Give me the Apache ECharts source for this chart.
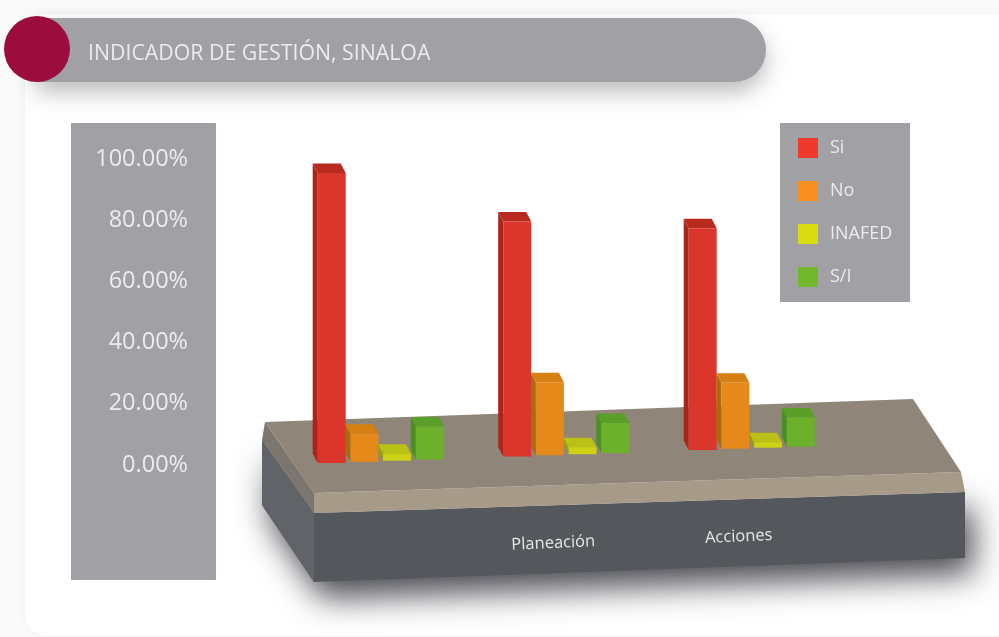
<!DOCTYPE html>
<html>
<head>
<meta charset="utf-8">
<title>Indicador de gestión, Sinaloa</title>
<script src="https://cdn.jsdelivr.net/npm/echarts@6/dist/echarts.min.js"></script>
<style>
  html, body { margin: 0; padding: 0; background: #fafafa; }
  #chart { width: 999px; height: 637px; }
</style>
</head>
<body>
<div id="chart"></div>
<script>
const titleText = 'INDICADOR DE GESTIÓN, SINALOA';
const categories = ['', 'Planeación', 'Acciones'];
const seriesNames = ['Si', 'No', 'INAFED', 'S/I'];

// values in percent
const si = [94.8, 76.8, 72.5];
const no = [9.2, 23.9, 21.6];
const inafed = [2.3, 2.3, 1.8];
const sinInfo = [10.8, 9.8, 9.5];

const legendColors = ['#ee3a2c', '#f7901e', '#d9dd10', '#72b72c'];
const frontColors = ['#dc352b', '#e5891a', '#cdd214', '#6cb02c'];
const topColors = ['#b92a1e', '#d67f12', '#b9c016', '#5aa028'];
const sideColors = ['#a8251a', '#a96a10', '#9aa010', '#4a8f22'];

const panelGrey = '#a0a0a5';
const slope = 0.035; // the floor climbs to the right
const slotWidth = 32.7;
const faceWidth = 28;
const depthX = -5;
const depthY = -9.5;

// 2px lift: the tick labels sit a little lower than the bars' zero line
function floorShift(x) {
  return (x - 331) * slope + 2;
}

function barRenderer(seriesIdx) {
  return function (params, api) {
    const p = api.coord([api.value(0), api.value(1)]);
    const base = api.coord([api.value(0), 0]);
    const cx = p[0] + (seriesIdx - 1.5) * slotWidth;
    const x0 = cx - faceWidth / 2;
    const x1 = cx + faceWidth / 2;
    const shift = floorShift(cx);
    const top = p[1] - shift;
    const bottom = base[1] - shift;
    return {
      type: 'group',
      children: [
        {
          type: 'polygon',
          shape: { points: [[x0, top], [x0 + depthX, top + depthY], [x0 + depthX, bottom + depthY], [x0, bottom]] },
          style: { fill: sideColors[seriesIdx] }
        },
        {
          type: 'polygon',
          shape: { points: [[x0, top], [x1, top], [x1 + depthX, top + depthY], [x0 + depthX, top + depthY]] },
          style: { fill: topColors[seriesIdx] }
        },
        {
          type: 'rect',
          shape: { x: x0, y: top, width: faceWidth, height: bottom - top },
          style: { fill: frontColors[seriesIdx] }
        }
      ]
    };
  };
}

function labelRenderer(params, api) {
  const p = api.coord([api.value(0), 0]);
  const x = p[0] - 13;
  return {
    type: 'text',
    x: x,
    y: p[1] + 88 - floorShift(x),
    rotation: 2.5 * Math.PI / 180,
    style: {
      text: categories[api.value(0)],
      fill: '#e6e6e6',
      fontFamily: 'Open Sans',
      fontSize: 16.5,
      align: 'center',
      verticalAlign: 'middle'
    }
  };
}

function barSeries(name, values, idx) {
  return {
    name: name,
    type: 'custom',
    renderItem: barRenderer(idx),
    data: values.map((v, i) => [i, v]),
    encode: { x: 0, y: 1 },
    itemStyle: { color: legendColors[idx] },
    clip: false,
    z: 5
  };
}

const chart = echarts.init(document.getElementById('chart'));

chart.setOption({
  animation: false,
  backgroundColor: '#fafafa',
  title: {
    text: titleText,
    left: 83,
    top: 38,
    textStyle: { color: '#ececec', fontFamily: 'Open Sans', fontSize: 21.3, fontWeight: 'normal' }
  },
  legend: {
    data: seriesNames,
    orient: 'vertical',
    left: 793,
    top: 133,
    itemWidth: 20,
    itemHeight: 20,
    itemGap: 23,
    icon: 'rect',
    textStyle: { color: '#ececec', fontFamily: 'Open Sans', fontSize: 18, padding: [0, 0, 0, 7] }
  },
  grid: { left: 288, top: 159, width: 556.5, height: 306 },
  xAxis: {
    type: 'category',
    data: categories,
    axisLine: { show: false },
    axisTick: { show: false },
    axisLabel: { show: false }
  },
  yAxis: {
    type: 'value',
    z: 10,
    min: 0,
    max: 100,
    interval: 20,
    axisLine: { show: false },
    axisTick: { show: false },
    splitLine: { show: false },
    axisLabel: {
      margin: 100,
      formatter: '{value}.00%',
      color: '#ececec',
      fontFamily: 'Open Sans',
      fontSize: 23.5
    }
  },
  series: [
    barSeries(seriesNames[0], si, 0),
    barSeries(seriesNames[1], no, 1),
    barSeries(seriesNames[2], inafed, 2),
    barSeries(seriesNames[3], sinInfo, 3),
    {
      name: 'categorias',
      type: 'custom',
      renderItem: labelRenderer,
      data: categories.map((c, i) => [i, 0]),
      encode: { x: 0, y: 1 },
      clip: false,
      silent: true,
      z: 6
    }
  ],
  graphic: {
    elements: [
      // white card
      { type: 'rect', z: 0, shape: { x: 25, y: 14, width: 990, height: 622, r: 22 }, style: { fill: '#ffffff', shadowBlur: 10, shadowColor: 'rgba(0,0,0,0.04)' } },
      // title pill and dot
      { type: 'rect', z: 1, shape: { x: 36, y: 18, width: 730, height: 64, r: [0, 32, 32, 0] }, style: { fill: panelGrey, shadowBlur: 22, shadowOffsetY: 10, shadowColor: 'rgba(60,60,60,0.35)' } },
      { type: 'circle', z: 1, shape: { cx: 37, cy: 49, r: 33 }, style: { fill: '#9b0d3c' } },
      // y axis and legend panels
      { type: 'rect', z: 1, shape: { x: 71, y: 123, width: 145, height: 457 }, style: { fill: panelGrey } },
      { type: 'rect', z: 1, shape: { x: 780, y: 123, width: 130, height: 179 }, style: { fill: panelGrey } },
      // floor block under the bars
      { type: 'polygon', z: 1, shape: { points: [[262, 440], [314, 513], [965, 492], [965, 558], [314, 582], [262, 505]] }, style: { fill: '#54575b', shadowBlur: 32, shadowOffsetX: 8, shadowOffsetY: 16, shadowColor: 'rgba(30,30,40,0.8)' } },
      { type: 'polygon', z: 1, shape: { points: [[262, 440], [314, 513], [314, 582], [262, 505]] }, style: { fill: '#606367' } },
      { type: 'polygon', z: 1, shape: { points: [[265, 422], [314, 493], [314, 513], [262, 440]] }, style: { fill: '#7c776e' } },
      { type: 'polygon', z: 1, shape: { points: [[314, 493], [961, 472], [965, 492], [314, 513]] }, style: { fill: '#a89a88' } },
      { type: 'polygon', z: 1, shape: { points: [[265, 422], [913, 399], [961, 472], [314, 493]] }, style: { fill: '#8f8578' } }
    ]
  }
});
</script>
</body>
</html>
